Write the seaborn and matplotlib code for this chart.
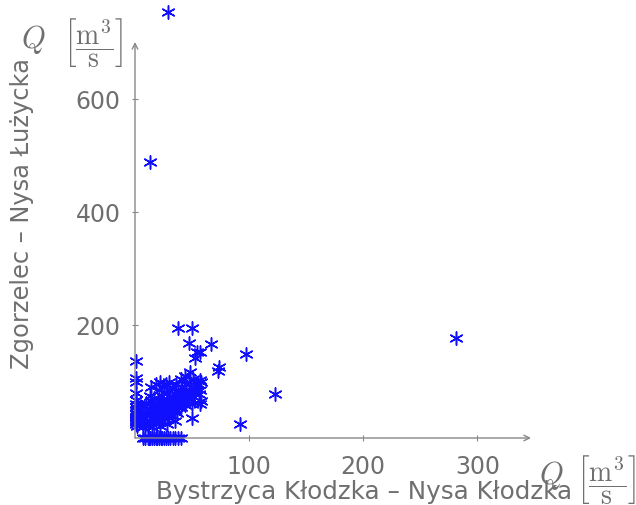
import numpy as np
import pandas as pd
import matplotlib
matplotlib.use('Agg')
import matplotlib.pyplot as plt
import seaborn as sns

# flow at Bystrzyca Klodzka vs Zgorzelec (m3/s)
x_outliers = [29, 13, 281, 123, 97, 92, 74, 73, 67, 57, 54, 53, 47, 38, 50, 48, 50]
y_outliers = [754, 488, 177, 78, 148, 25, 126, 119, 166, 152, 152, 142, 168, 195, 195, 117, 35]

x_edge = [1, 1, 1, 1, 1, 1, 1, 1, 1, 1, 1, 1, 1, 1, 1, 1, 2, 2, 3, 3, 4, 4, 2]
y_edge = [136, 106, 100, 80, 68, 60, 55, 50, 45, 42, 38, 35, 32, 30, 28, 25, 48, 36, 58, 40, 30, 52, 22]

x_zero = [7, 9, 11, 13, 15, 17, 19, 21, 23, 25, 27, 29, 31, 33, 35, 38, 40, 12, 18, 24]
y_zero = [0] * 20

x_cluster = [5, 6, 8, 8, 10, 10, 12, 12, 13, 14, 15, 15, 16, 17, 18, 18, 19, 20, 20, 21,
             22, 22, 23, 24, 25, 25, 26, 27, 28, 28, 29, 30, 30, 31, 32, 33, 34, 35, 36, 36,
             37, 38, 39, 40, 40, 41, 42, 43, 44, 45, 45, 46, 47, 48, 49, 50, 51, 52, 53, 55,
             56, 58, 58, 15, 22, 28, 35, 11, 19, 26, 33, 9, 14, 24, 44, 52, 57, 57, 57,
             7, 10, 13, 16, 17, 20, 23, 26, 29, 31, 34, 38, 41, 43, 47, 27, 30, 21, 25, 32]
y_cluster = [30, 45, 35, 55, 40, 62, 28, 50, 75, 90, 38, 58, 45, 70, 95, 30, 52, 65, 40, 85,
             100, 48, 58, 75, 35, 90, 60, 45, 80, 68, 55, 100, 40, 72, 88, 60, 50, 78, 95, 62,
             45, 85, 70, 105, 55, 90, 75, 62, 110, 85, 95, 70, 100, 80, 90, 60, 105, 72, 88, 95,
             78, 65, 100, 20, 22, 25, 30, 22, 35, 42, 55, 25, 65, 48, 58, 80, 60, 85, 102,
             20, 28, 42, 33, 60, 50, 68, 52, 38, 62, 70, 55, 65, 82, 72, 95, 85, 30, 45, 40]

df = pd.DataFrame({
    'x': x_outliers + x_edge + x_zero + x_cluster,
    'y': y_outliers + y_edge + y_zero + y_cluster,
})

plt.rcParams['mathtext.fontset'] = 'cm'
grey = '#6f6f6f'

fig = plt.figure(figsize=(6.36, 5.05), dpi=100)
ax = fig.add_axes([135/636, 1 - 438/505, 396/636, 396/505])

sns.scatterplot(data=df, x='x', y='y', ax=ax, marker=(6, 2, 0), s=90,
                color='#1010ff', edgecolor='#1010ff', linewidth=1.1, clip_on=False, zorder=3)

ax.set_xlim(0, 347)
ax.set_ylim(0, 701)
for sp in ax.spines.values():
    sp.set_visible(False)
ax.annotate('', xy=(347, 0), xytext=(0, 0), xycoords='data',
            arrowprops=dict(arrowstyle='->', color='#888888', lw=1, shrinkA=0, shrinkB=0))
ax.annotate('', xy=(0, 701), xytext=(0, 0), xycoords='data',
            arrowprops=dict(arrowstyle='->', color='#888888', lw=1, shrinkA=0, shrinkB=0))

ax.set_xticks([100, 200, 300])
ax.set_yticks([200, 400, 600])
ax.tick_params(direction='inout', length=5, width=0.8, color='#888888',
               labelsize=17, labelcolor=grey)
ax.tick_params(axis='x', pad=10)
ax.tick_params(axis='y', pad=8)
ax.set_xlabel('')
ax.set_ylabel('')

q = r'$Q$'
bracket = r'$\left[\dfrac{\mathrm{m}^3}{\mathrm{s}}\right]$'
fig.text(364/636, 1 - 492/505, 'Bystrzyca Kłodzka – Nysa Kłodzka',
         ha='center', va='center', fontsize=17.7, color=grey)
fig.text(22/636, 1 - 214/505, 'Zgorzelec – Nysa Łużycka', rotation=90,
         ha='center', va='center', fontsize=17.4, color=grey)
# unit labels
fig.text(551/636, 1 - 476/505, q, ha='center', va='center', fontsize=22, color=grey)
fig.text(606/636, 1 - 480/505, bracket, ha='center', va='center', fontsize=20, color=grey)
fig.text(33/636, 1 - 40/505, q, ha='center', va='center', fontsize=22, color=grey)
fig.text(93/636, 1 - 42/505, bracket, ha='center', va='center', fontsize=20, color=grey)

fig.savefig('out.png', dpi=100)
